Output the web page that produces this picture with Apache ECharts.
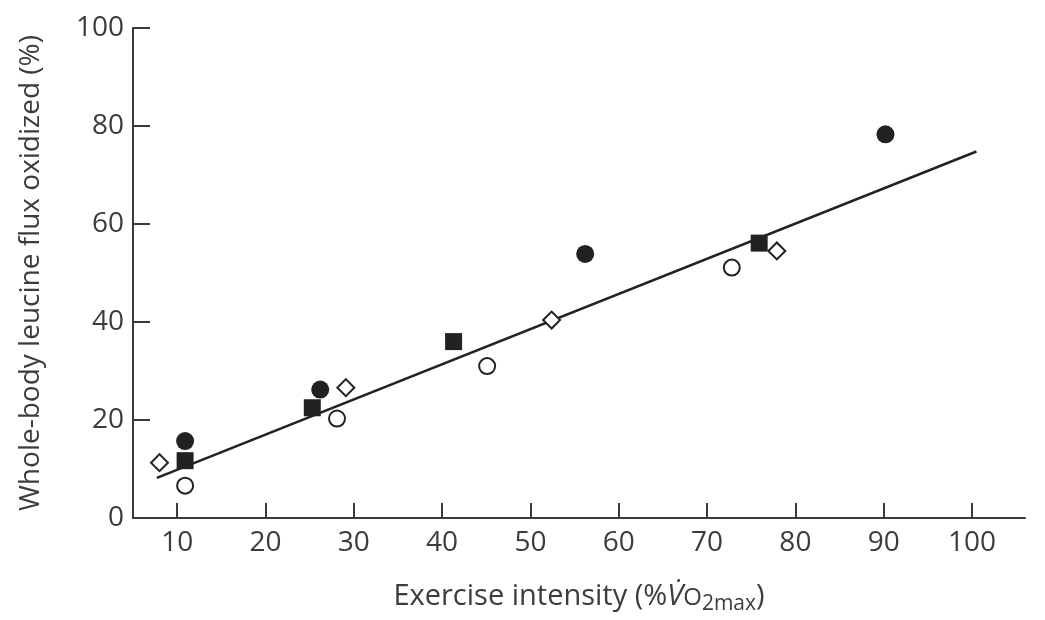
<!DOCTYPE html>
<html>
<head>
<meta charset="utf-8">
<script src="https://cdn.jsdelivr.net/npm/echarts@6/dist/echarts.min.js"></script>
<style>
  html, body { margin: 0; padding: 0; background: #fff; }
  #chart { width: 1045px; height: 620px; }
</style>
</head>
<body>
<div id="chart"></div>
<script>
// exercise intensity (%VO2max) vs leucine flux oxidized (%)
const xTicks = [10, 20, 30, 40, 50, 60, 70, 80, 90, 100];

const filledCircles = [[10.9, 15.7], [26.2, 26.2], [56.2, 53.9], [90.2, 78.3]];
const filledSquares = [[10.9, 11.7], [25.3, 22.5], [41.3, 36.0], [75.9, 56.1]];
const openCircles = [[10.9, 6.6], [28.1, 20.3], [45.1, 31.0], [72.8, 51.1]];
const openDiamonds = [[8.0, 11.3], [29.1, 26.6], [52.4, 40.4], [77.9, 54.5]];

// fitted line ends
const fitLine = [[7.7, 8.2], [100.5, 74.8]];

const ink = '#222';
const textColor = '#3c3c3c';
const font = "'Open Sans', sans-serif";

const chart = echarts.init(document.getElementById('chart'));

chart.setOption({
  backgroundColor: '#fff',
  animation: false,
  grid: { left: 133, right: 20, top: 28, bottom: 94 },
  xAxis: {
    type: 'value',
    min: 5,
    max: 106,
    splitLine: { show: false },
    axisLine: { lineStyle: { color: '#3a3a3a', width: 2 } },
    axisTick: {
      inside: true, length: 15, customValues: xTicks,
      lineStyle: { color: '#3a3a3a', width: 2 }
    },
    axisLabel: {
      customValues: xTicks, margin: 11,
      color: textColor, fontSize: 28, fontFamily: font
    },
    name: '{a|Exercise intensity (%}{v|V̇}{o|O}{s|2max}{a|)}',
    nameLocation: 'middle',
    nameGap: 60,
    nameTextStyle: {
      rich: {
        a: { fontSize: 29, color: textColor, fontFamily: font },
        v: { fontSize: 29, color: textColor, fontFamily: font, fontStyle: 'italic' },
        o: { fontSize: 24, color: textColor, fontFamily: font, padding: [4, 0, 0, 0] },
        s: { fontSize: 21, color: textColor, fontFamily: font, padding: [16, 0, 0, 0] }
      }
    }
  },
  yAxis: {
    type: 'value',
    min: 0,
    max: 100,
    interval: 20,
    splitLine: { show: false },
    axisLine: { show: true, lineStyle: { color: '#3a3a3a', width: 2 } },
    axisTick: { inside: true, length: 17, lineStyle: { color: '#3a3a3a', width: 2 } },
    axisLabel: { margin: 9, color: textColor, fontSize: 28, fontFamily: font },
    name: 'Whole-body leucine flux oxidized (%)',
    nameLocation: 'middle',
    nameGap: 88,
    nameTextStyle: { fontSize: 28, color: textColor, fontFamily: font }
  },
  series: [
    {
      type: 'line',
      data: fitLine,
      symbol: 'none',
      lineStyle: { color: ink, width: 2.5 },
      z: 1
    },
    {
      type: 'scatter',
      data: filledCircles,
      symbol: 'circle',
      symbolSize: 18,
      itemStyle: { color: ink, opacity: 1 },
      z: 3
    },
    {
      type: 'scatter',
      data: filledSquares,
      symbol: 'rect',
      symbolSize: 17,
      itemStyle: { color: ink, opacity: 1 },
      z: 3
    },
    {
      type: 'scatter',
      data: openCircles,
      symbol: 'circle',
      symbolSize: 16,
      itemStyle: { color: '#fff', borderColor: ink, borderWidth: 2, opacity: 1 },
      z: 3
    },
    {
      type: 'scatter',
      data: openDiamonds,
      symbol: 'rect',
      symbolRotate: 45,
      symbolSize: 12,
      itemStyle: { color: '#fff', borderColor: ink, borderWidth: 2, opacity: 1 },
      z: 3
    }
  ]
});
</script>
</body>
</html>
